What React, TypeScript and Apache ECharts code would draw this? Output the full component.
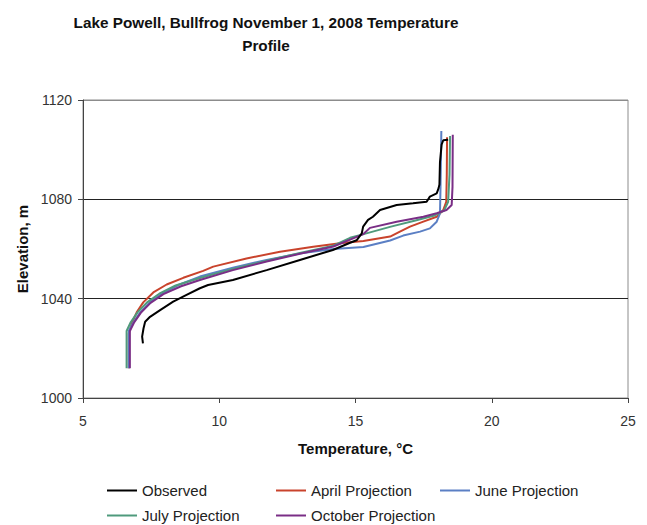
import React, { useEffect, useRef } from "react";
import * as echarts from "echarts";

// Temperature profiles: each point is [temperature °C, elevation m]
const observed: [number, number][] = [
  [7.2, 1022], [7.17, 1024.7], [7.22, 1028], [7.28, 1030.7], [7.46, 1032.7],
  [7.83, 1035.4], [8.31, 1038.8], [8.8, 1041.5], [9.29, 1044.2], [9.59, 1045.5],
  [10.5, 1047.5], [11.74, 1051.5], [12.96, 1055.6], [14.17, 1059.6], [14.8, 1062.5],
  [15.04, 1063.5], [15.23, 1066.3], [15.28, 1069], [15.46, 1071.7], [15.64, 1073],
  [15.9, 1075.7], [16.51, 1077.7], [17.11, 1078.4], [17.61, 1079], [17.73, 1081.1],
  [17.98, 1082.4], [18.05, 1084.5], [18.08, 1086], [18.1, 1095], [18.16, 1102],
  [18.22, 1103.8], [18.4, 1104],
];

const aprilProjection: [number, number][] = [
  [6.68, 1012], [6.68, 1026], [6.79, 1030], [6.97, 1034.5], [7.21, 1038.5],
  [7.58, 1042.5], [8.07, 1045.7], [8.68, 1048.4], [9.41, 1051.2], [9.78, 1052.9],
  [11.0, 1056.2], [12.23, 1058.9], [13.45, 1060.9], [14.43, 1062.3], [15.29, 1063.2],
  [16.27, 1065], [16.63, 1067], [17.0, 1069], [17.49, 1071], [17.98, 1073],
  [18.22, 1075.7], [18.33, 1079], [18.35, 1090], [18.36, 1105],
];

const juneProjection: [number, number][] = [
  [6.68, 1012], [6.68, 1027], [6.85, 1030.5], [7.1, 1034.5], [7.45, 1038.5],
  [7.9, 1042], [8.5, 1045.5], [9.29, 1048.9], [10.5, 1052.5], [11.74, 1055.6],
  [13.0, 1058.3], [14.19, 1060], [15.29, 1060.8], [16.27, 1063.4], [16.75, 1065.4],
  [17.37, 1067], [17.73, 1068.3], [17.98, 1071], [18.1, 1074.3], [18.12, 1085],
  [18.15, 1107.5],
];

const julyProjection: [number, number][] = [
  [6.6, 1012], [6.6, 1027], [6.75, 1030.5], [7.0, 1034.5], [7.35, 1038.5],
  [7.8, 1042], [8.4, 1045.3], [9.29, 1048.3], [10.5, 1052], [11.74, 1055.3],
  [13.0, 1058.5], [14.19, 1061.3], [14.8, 1064.5], [15.3, 1066], [16.3, 1069],
  [17.2, 1071.5], [17.9, 1073.5], [18.25, 1075.5], [18.4, 1079], [18.45, 1090],
  [18.47, 1105.5],
];

const octoberProjection: [number, number][] = [
  [6.72, 1012], [6.72, 1027], [6.87, 1030.3], [7.12, 1034.3], [7.48, 1038.3],
  [7.95, 1041.8], [8.6, 1045], [9.29, 1047.5], [10.5, 1051.5], [11.74, 1055],
  [13.0, 1058.2], [14.19, 1061], [15.29, 1066], [15.53, 1068.5], [16.51, 1071],
  [17.49, 1073], [17.98, 1074.4], [18.34, 1075.7], [18.53, 1077.7], [18.56, 1085],
  [18.57, 1106],
];

const seriesNames = [
  "Observed",
  "April Projection",
  "June Projection",
  "July Projection",
  "October Projection",
];
const seriesData = [observed, aprilProjection, juneProjection, julyProjection, octoberProjection];
const seriesColors = ["#000000", "#c9432c", "#5b7fc4", "#4f9a7c", "#7a2e86"];

// legend slot positions (two rows, three columns)
const legendSlots = [
  { left: 107, top: 483 },
  { left: 276, top: 483 },
  { left: 440, top: 483 },
  { left: 107, top: 508 },
  { left: 276, top: 508 },
];

const FONT = "Liberation Sans, Arial, sans-serif";

export default function App() {
  const ref = useRef<HTMLDivElement>(null);

  useEffect(() => {
    document.body.style.margin = "0";
    if (!ref.current) return;
    const chart = echarts.init(ref.current, undefined, { renderer: "svg" });
    chart.setOption({
      animation: false,
      backgroundColor: "#ffffff",
      textStyle: { fontFamily: FONT },
      title: {
        text: "Lake Powell, Bullfrog November 1, 2008 Temperature\nProfile",
        left: 261,
        top: 6,
        textAlign: "center",
        textStyle: {
          fontFamily: FONT,
          fontSize: 15.3,
          fontWeight: "bold",
          color: "#111",
          lineHeight: 23,
        },
      },
      grid: {
        left: 83,
        right: 19,
        top: 100,
        bottom: 127,
        show: true,
        borderColor: "#8c8c8c",
        borderWidth: 1,
        backgroundColor: "transparent",
      },
      legend: seriesNames.map((name, i) => ({
        data: [name],
        left: legendSlots[i].left,
        top: legendSlots[i].top,
        orient: "horizontal",
        icon: "rect",
        itemWidth: 30,
        itemHeight: 2,
        itemGap: 0,
        padding: 0,
        textStyle: { fontFamily: FONT, fontSize: 15, color: "#222" },
      })),
      xAxis: {
        type: "value",
        min: 5,
        max: 25,
        interval: 5,
        name: "Temperature, °C",
        nameLocation: "middle",
        nameGap: 43,
        nameTextStyle: { fontFamily: FONT, fontSize: 15, fontWeight: "bold", color: "#111" },
        axisLine: { show: true, lineStyle: { color: "#444", width: 1 } },
        axisTick: { show: true, length: 5, lineStyle: { color: "#444" } },
        axisLabel: { fontFamily: FONT, fontSize: 14, color: "#333", margin: 16 },
        splitLine: { show: false },
      },
      yAxis: {
        type: "value",
        min: 1000,
        max: 1120,
        interval: 40,
        name: "Elevation, m",
        nameLocation: "middle",
        nameGap: 53,
        nameRotate: 90,
        nameTextStyle: { fontFamily: FONT, fontSize: 15, fontWeight: "bold", color: "#111" },
        axisLine: { show: true, lineStyle: { color: "#444", width: 1 } },
        axisTick: { show: true, length: 5, lineStyle: { color: "#444" } },
        axisLabel: {
          fontFamily: FONT,
          fontSize: 14,
          color: "#333",
          margin: 11,
          formatter: (v: number) => String(v),
        },
        splitLine: {
          show: true,
          lineStyle: { color: ["#444", "#222", "#222", "#8c8c8c"], width: 1 },
        },
      },
      series: seriesNames.map((name, i) => ({
        name,
        type: "line",
        data: seriesData[i],
        showSymbol: false,
        symbol: "none",
        smooth: false,
        lineStyle: { color: seriesColors[i], width: 2 },
        itemStyle: { color: seriesColors[i] },
        z: i === 0 ? 3 : 2,
      })),
    });
    return () => chart.dispose();
  }, []);

  return <div ref={ref} style={{ width: 647, height: 525 }} />;
}
